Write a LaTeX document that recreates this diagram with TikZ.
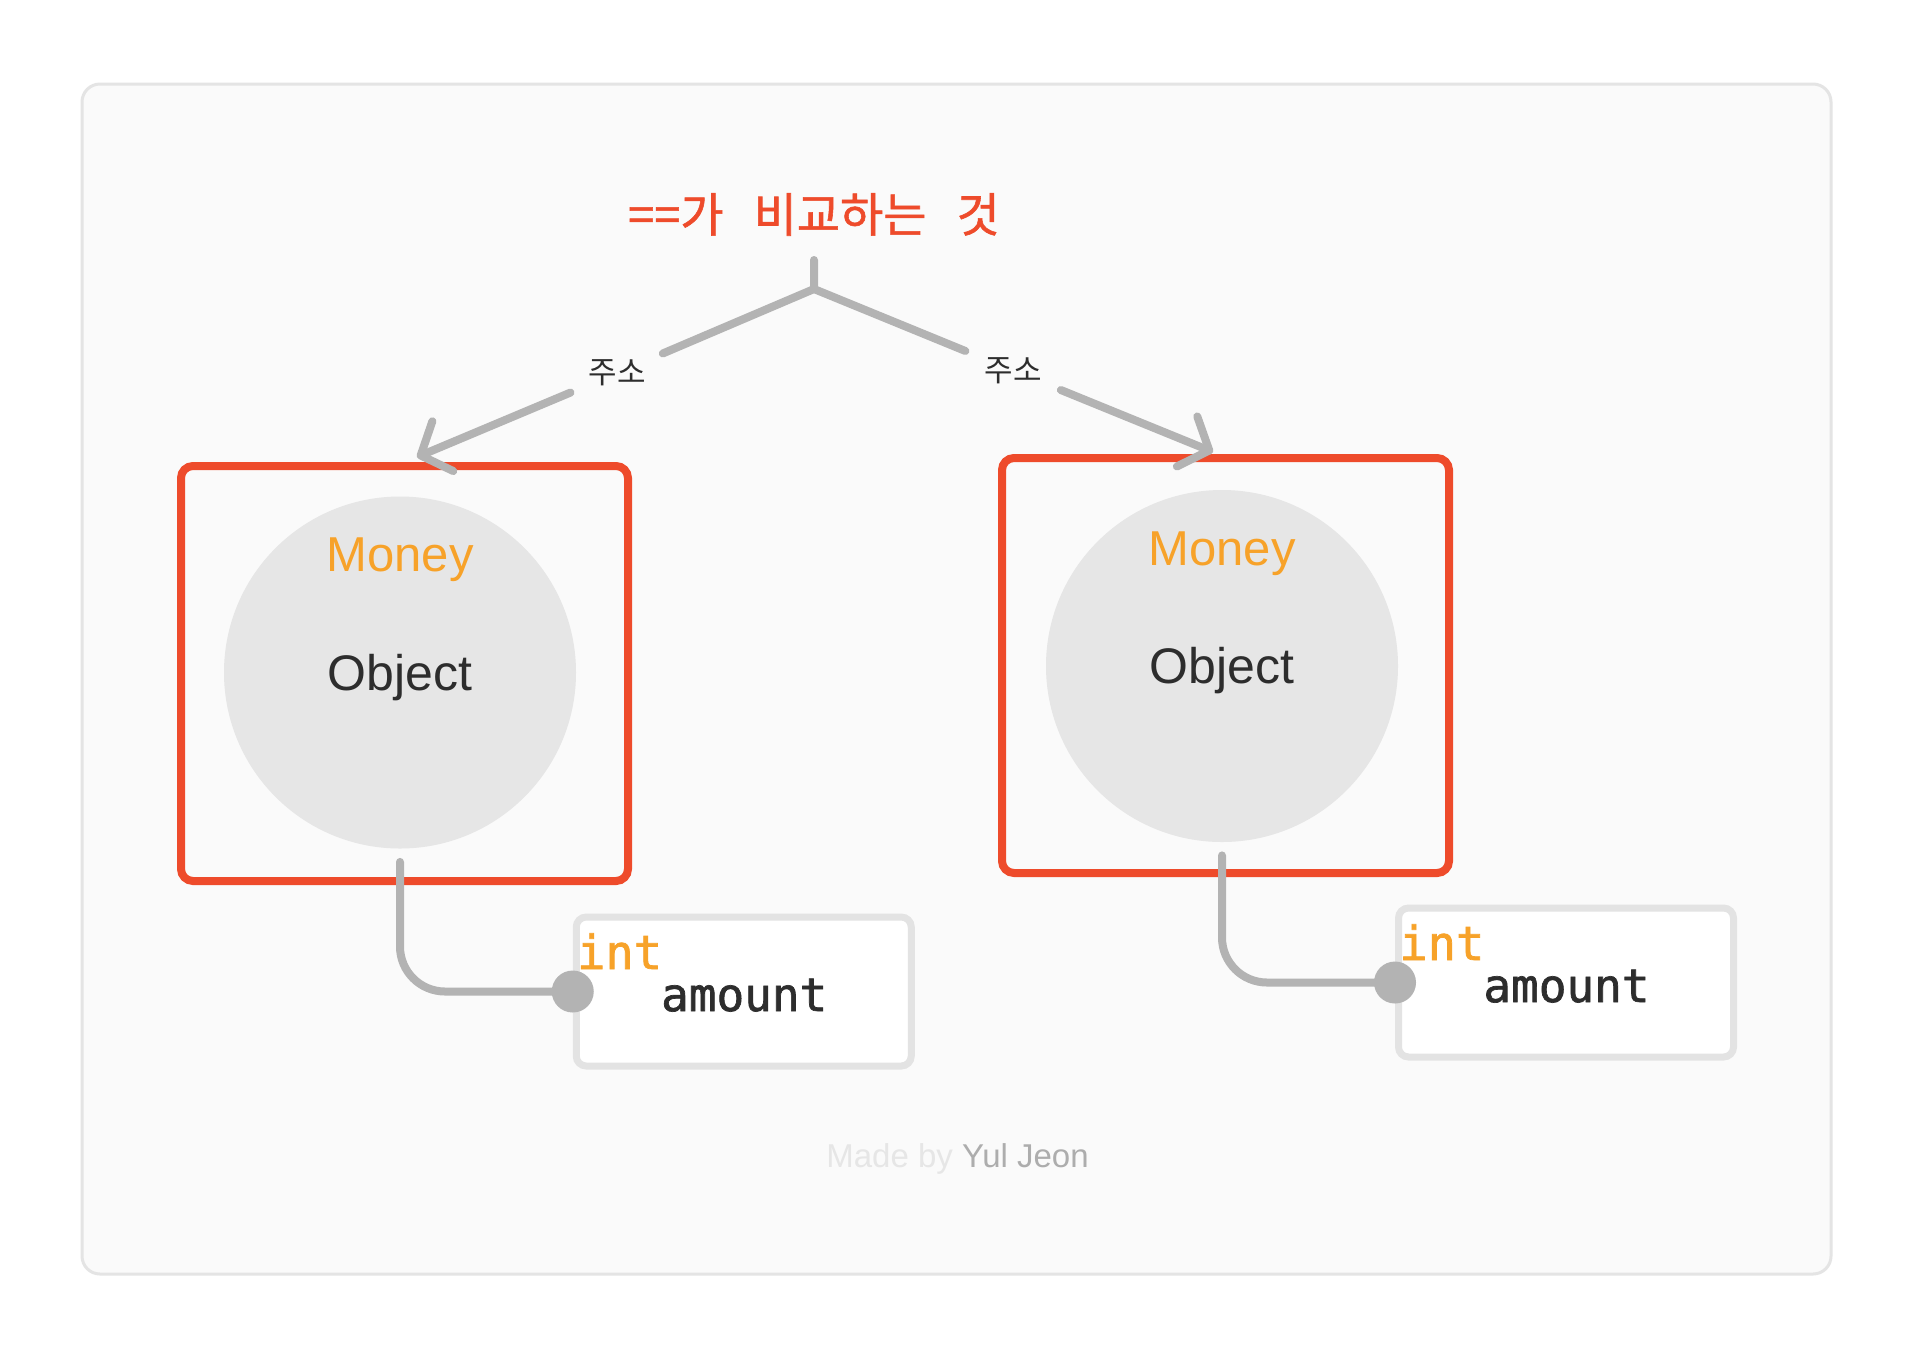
\documentclass[tikz,border=0pt]{standalone}
\usepackage{fontspec}
\setmainfont{Liberation Sans}
\newfontfamily\krfont{Noto Sans CJK KR}
\newfontfamily\krtitlefont[FakeBold=1.2]{Noto Sans CJK KR}
\newfontfamily\codefont{DejaVu Sans Mono}
\newfontfamily\codefontmed[FakeBold=1.5]{DejaVu Sans Mono}
\usetikzlibrary{arrows.meta,calc}
\definecolor{bgc}{HTML}{FAFAFA}
\definecolor{framec}{HTML}{E4E4E4}
\definecolor{redc}{HTML}{EE4B2B}
\definecolor{orangec}{HTML}{F7A229}
\definecolor{connc}{HTML}{B3B3B3}
\definecolor{circc}{HTML}{E6E6E6}
\definecolor{textc}{HTML}{2D2D2D}
\definecolor{fieldc}{HTML}{E3E3E3}
\definecolor{madec}{HTML}{E6E6E6}
\definecolor{yulc}{HTML}{ADADAD}
\begin{document}
\begin{tikzpicture}[x=0.5pt,y=-0.5pt,
  redbox/.style={draw=redc, line width=4pt, rounded corners=6pt, minimum width=223.5pt, minimum height=207.5pt, inner sep=0pt},
  objcircle/.style={circle, fill=circc, minimum size=176pt, inner sep=0pt},
  moneytxt/.style={text=orangec, font=\fontsize{24.5pt}{28pt}\selectfont, inner sep=0pt, anchor=base},
  objtxt/.style={text=textc, font=\fontsize{25pt}{28pt}\selectfont, inner sep=0pt, anchor=base},
  fieldbox/.style={draw=fieldc, line width=3.5pt, fill=white, rounded corners=5pt, minimum width=167.5pt, minimum height=74.5pt, inner sep=0pt},
  fielddot/.style={circle, fill=connc, minimum size=21pt, inner sep=0pt},
  inttxt/.style={text=orangec, font=\codefontmed\fontsize{23.5pt}{26pt}\selectfont, inner sep=0pt, anchor=base west},
  amounttxt/.style={text=textc, font=\codefontmed\fontsize{23pt}{26pt}\selectfont, inner sep=0pt, anchor=base west},
  conn/.style={draw=connc, line width=4pt, line cap=round, line join=round},
  refarrow/.style={conn, -{Straight Barb[length=12pt,width=27pt,round]}},
  lbl/.style={text=textc, font=\krfont\fontsize{15.5pt}{17pt}\selectfont, inner xsep=10pt, inner ysep=3pt},
  titletxt/.style={text=redc, font=\krtitlefont\fontsize{23.5pt}{27pt}\selectfont, inner sep=0pt, anchor=base}
]
\fill[white] (0,0) rectangle (1914,1356);
\useasboundingbox (0,0) rectangle (1914,1356);
\draw[draw=framec, line width=1.5pt, fill=bgc, rounded corners=9pt] (82,84) rectangle (1831,1274);

% title
\node[titletxt] (title) at (814,232) {==가\hspace{15pt}비교하는\hspace{15pt}것};
\coordinate (stemtop) at (814,260);
\coordinate (junc) at (814,289);
\coordinate (tipL) at (417,457);
\coordinate (tipR) at (1213,452);

% left object
\node[redbox] (boxL) at (404.5,673.5) {};
\node[objcircle] (objL) at (400,672.5) {};
\node[moneytxt] (moneyL) at ($(objL.center)+(0,-101)$) {Money};
\node[objtxt] (objtxtL) at ($(objL.center)+(0,17.5)$) {Object};
\node[fieldbox] (fieldL) at (743.75,991.5) {};
\node[inttxt] (intL) at ($(fieldL.west)+(4,-22.5)$) {int};
\node[amounttxt] (amountL) at ($(fieldL.west)+(88,19.5)$) {amount};

% right object
\node[redbox] (boxR) at (1225.5,665.5) {};
\node[objcircle] (objR) at (1222,666) {};
\node[moneytxt] (moneyR) at ($(objR.center)+(0,-101)$) {Money};
\node[objtxt] (objtxtR) at ($(objR.center)+(0,17.5)$) {Object};
\node[fieldbox] (fieldR) at (1566,982.5) {};
\node[inttxt] (intR) at ($(fieldR.west)+(4,-22.5)$) {int};
\node[amounttxt] (amountR) at ($(fieldR.west)+(88,19.5)$) {amount};

% labels
\node[lbl] (lblL) at (617,373) {주소};
\node[lbl] (lblR) at (1013,370.5) {주소};

% connectors
\draw[conn] (stemtop) -- (junc) -- (lblL);
\draw[conn] (junc) -- (lblR);
\draw[refarrow] (lblL) -- (tipL);
\draw[refarrow] (lblR) -- (tipR);

\draw[conn, rounded corners=22.5pt] ([yshift=-6.5pt]objL.south) |- (fieldL.west);
\draw[conn, rounded corners=22.5pt] ([yshift=-6.5pt]objR.south) |- (fieldR.west);
\node[fielddot] (dotL) at (fieldL.west) {};
\node[fielddot] (dotR) at (fieldR.west) {};

% credit
\node[anchor=base, inner sep=0pt, font=\fontsize{16.5pt}{19pt}\selectfont] (credit) at (957.5,1167) {\textcolor{madec}{Made by} \textcolor{yulc}{Yul Jeon}};
\end{tikzpicture}
\end{document}
